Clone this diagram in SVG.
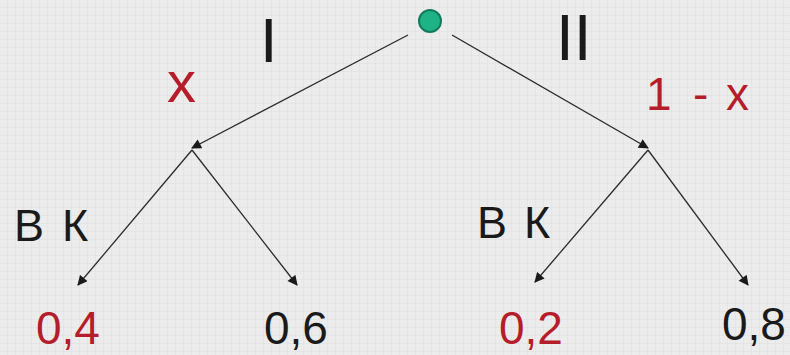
<svg xmlns="http://www.w3.org/2000/svg" width="790" height="355" viewBox="0 0 790 355">
<defs>
<pattern id="grid" width="8" height="8" patternUnits="userSpaceOnUse">
<rect width="8" height="8" fill="#ececec"/>
<path d="M8 0V8M0 8H8" stroke="#dedede" stroke-width="1" fill="none"/>
</pattern>
<marker id="arr" viewBox="0 0 10 10" refX="9" refY="5" markerWidth="11" markerHeight="10" orient="auto" markerUnits="userSpaceOnUse">
<path d="M0 0L10 5L0 10z" fill="#1a1a1a"/>
</marker>
<style>
.t{font-family:"Liberation Sans",Arial,sans-serif;fill:#1a1a1a}
.r{font-family:"Liberation Sans",Arial,sans-serif;fill:#b51d2a}
.c{stroke:#2a2a2a;stroke-width:1.3;fill:none;marker-end:url(#arr)}
</style>
</defs>
<rect width="790" height="355" fill="url(#grid)"/>
<g id="connectors">
<line class="c" x1="408" y1="35" x2="192" y2="148"/>
<line class="c" x1="452" y1="35" x2="648" y2="148"/>
<line class="c" x1="192" y1="150" x2="78" y2="285"/>
<line class="c" x1="192" y1="150" x2="297" y2="285"/>
<line class="c" x1="648" y1="150" x2="535" y2="282"/>
<line class="c" x1="648" y1="150" x2="748" y2="285"/>
</g>
<g id="root"><circle cx="430" cy="21" r="11" fill="#1db386" stroke="#147a5c" stroke-width="2"/></g>
<g id="label-I"><text class="t" x="260" y="62" font-size="63">I</text></g>
<g id="label-II"><text class="t" x="556" y="60" font-size="64">II</text></g>
<g id="prob-x"><text class="r" x="167" y="102" font-size="58">x</text></g>
<g id="prob-1-x"><text class="r" y="110" font-size="46"><tspan x="646">1</tspan> <tspan x="693">-</tspan> <tspan x="726">x</tspan></text></g>
<g id="left-node"><text class="t" y="241" font-size="45"><tspan x="14">В</tspan> <tspan x="62">К</tspan></text></g>
<g id="right-node"><text class="t" y="238" font-size="45"><tspan x="477">В</tspan> <tspan x="524">К</tspan></text></g>
<g id="leaf-04"><text class="r" x="36" y="344" font-size="46">0,4</text></g>
<g id="leaf-06"><text class="t" x="264" y="344" font-size="46">0,6</text></g>
<g id="leaf-02"><text class="r" x="499" y="344" font-size="46">0,2</text></g>
<g id="leaf-08"><text class="t" x="722" y="340" font-size="46">0,8</text></g>
</svg>
